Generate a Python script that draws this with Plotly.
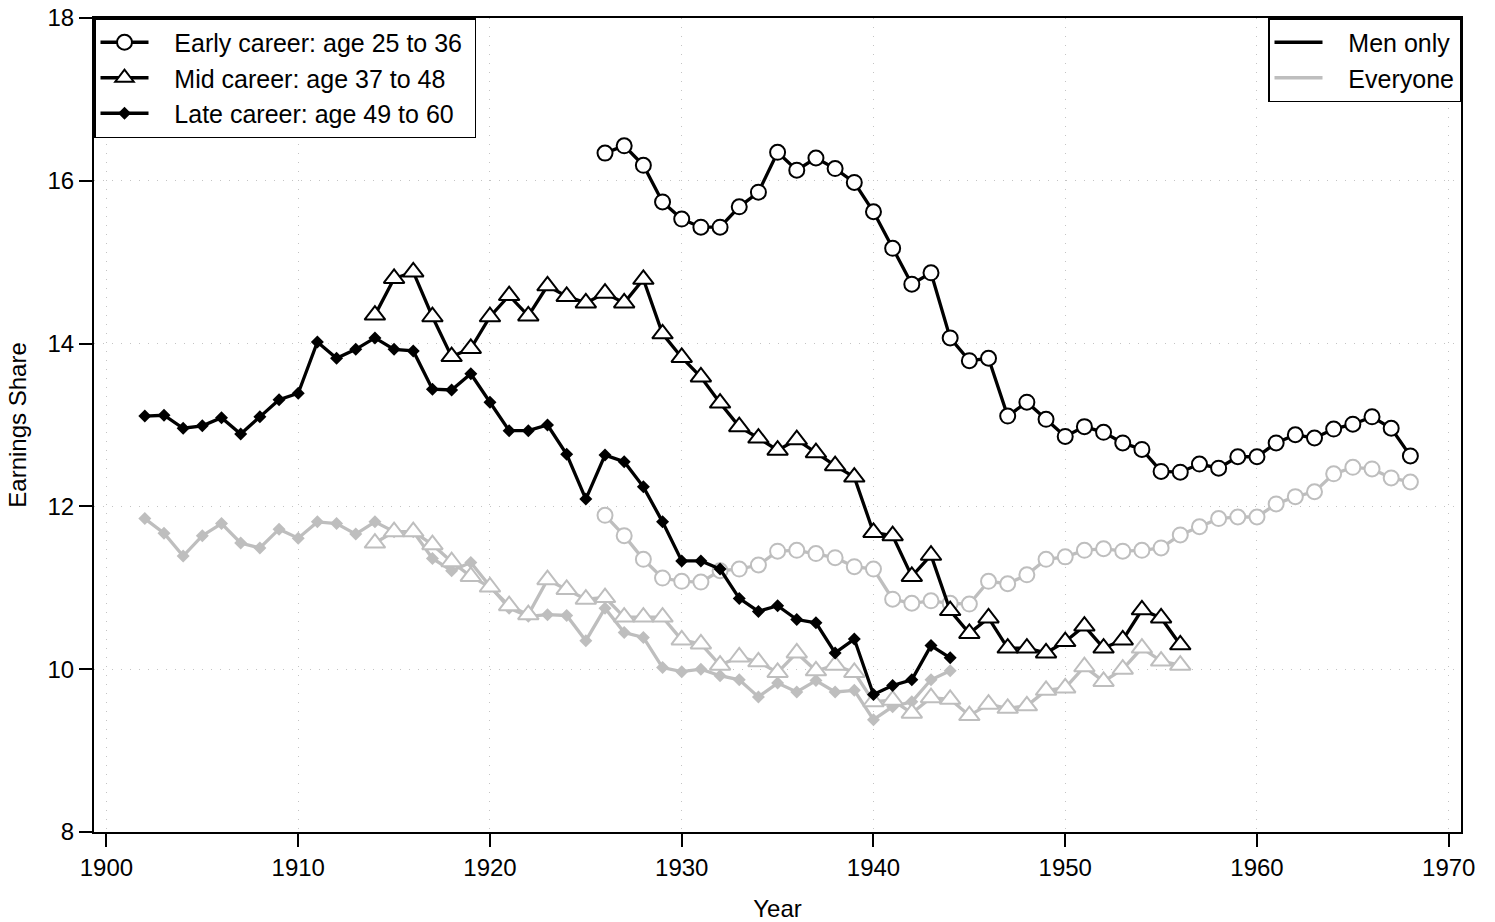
import plotly.graph_objects as go

# Earnings share by career stage, men only vs. everyone
years_early = list(range(1926, 1969))
years_mid = list(range(1914, 1957))
years_late = list(range(1902, 1945))

men_early = [16.34, 16.43, 16.19, 15.74, 15.53, 15.43, 15.43, 15.68, 15.86, 16.35,
             16.13, 16.28, 16.15, 15.98, 15.62, 15.17, 14.73, 14.87, 14.07, 13.79,
             13.82, 13.11, 13.28, 13.07, 12.86, 12.98, 12.91, 12.78, 12.70, 12.43,
             12.42, 12.52, 12.47, 12.61, 12.61, 12.78, 12.88, 12.84, 12.95, 13.01,
             13.10, 12.96, 12.62]
all_early = [11.89, 11.64, 11.35, 11.12, 11.08, 11.07, 11.21, 11.23, 11.28, 11.45,
             11.46, 11.42, 11.37, 11.26, 11.23, 10.86, 10.81, 10.84, 10.81, 10.80,
             11.08, 11.05, 11.16, 11.35, 11.38, 11.46, 11.48, 11.45, 11.46, 11.49,
             11.65, 11.75, 11.85, 11.87, 11.87, 12.03, 12.12, 12.18, 12.40, 12.48,
             12.46, 12.35, 12.30]

men_mid = [14.35, 14.80, 14.88, 14.33, 13.84, 13.94, 14.33, 14.59, 14.34, 14.71,
           14.58, 14.50, 14.62, 14.50, 14.79, 14.12, 13.83, 13.59, 13.27, 12.98,
           12.84, 12.69, 12.82, 12.66, 12.50, 12.36, 11.68, 11.64, 11.14, 11.40,
           10.72, 10.44, 10.63, 10.26, 10.26, 10.20, 10.34, 10.53, 10.26, 10.36,
           10.73, 10.63, 10.30]
all_mid = [11.55, 11.69, 11.69, 11.53, 11.32, 11.14, 11.01, 10.78, 10.67, 11.10,
           10.98, 10.86, 10.88, 10.64, 10.64, 10.64, 10.36, 10.31, 10.05, 10.15,
           10.09, 9.96, 10.20, 9.98, 10.05, 9.96, 9.60, 9.62, 9.46, 9.65,
           9.63, 9.43, 9.57, 9.52, 9.55, 9.74, 9.77, 10.03, 9.85, 10.00,
           10.26, 10.10, 10.05]

men_late = [13.11, 13.12, 12.96, 12.99, 13.09, 12.89, 13.10, 13.31, 13.39, 14.02,
            13.82, 13.93, 14.07, 13.93, 13.91, 13.44, 13.43, 13.63, 13.28, 12.93,
            12.93, 13.00, 12.64, 12.09, 12.63, 12.55, 12.24, 11.81, 11.33, 11.33,
            11.23, 10.87, 10.71, 10.78, 10.61, 10.57, 10.20, 10.37, 9.69, 9.80,
            9.87, 10.29, 10.14]
all_late = [11.85, 11.67, 11.39, 11.64, 11.79, 11.55, 11.49, 11.72, 11.61, 11.81,
            11.79, 11.66, 11.81, 11.69, 11.69, 11.36, 11.21, 11.31, 11.02, 10.75,
            10.65, 10.67, 10.66, 10.35, 10.75, 10.45, 10.39, 10.02, 9.97, 10.00,
            9.92, 9.87, 9.66, 9.83, 9.72, 9.86, 9.72, 9.74, 9.38, 9.54,
            9.60, 9.87, 9.98]

x_ticks = [1900, 1910, 1920, 1930, 1940, 1950, 1960, 1970]
y_ticks = [8, 10, 12, 14, 16, 18]

BLACK = "#000000"
GRAY = "#bebebe"
FONT = "Liberation Sans, Arial, sans-serif"
LW = 3.3
PAD = "   "  # gap between legend key and label

fig = go.Figure()


def add_series(x, y, color, symbol, name, showlegend):
    if symbol == "diamond":
        marker = dict(symbol="diamond", size=10, color=color, line=dict(width=0))
    elif symbol == "triangle-up":
        marker = dict(symbol="triangle-up", size=18, color="white",
                      line=dict(width=2, color=color))
    else:
        marker = dict(symbol="circle", size=15, color="white",
                      line=dict(width=2, color=color))
    fig.add_trace(go.Scatter(
        x=x, y=y, mode="lines+markers", name=PAD + name + " ",
        line=dict(color=color, width=LW), marker=marker,
        showlegend=showlegend, legend="legend",
    ))


# Everyone (gray) drawn underneath
add_series(years_late, all_late, GRAY, "diamond", "Late career: age 49 to 60", False)
add_series(years_mid, all_mid, GRAY, "triangle-up", "Mid career: age 37 to 48", False)
add_series(years_early, all_early, GRAY, "circle", "Early career: age 25 to 36", False)

# Men only (black) on top; these carry the age-group legend
add_series(years_early, men_early, BLACK, "circle", "Early career: age 25 to 36", True)
add_series(years_mid, men_mid, BLACK, "triangle-up", "Mid career: age 37 to 48", True)
add_series(years_late, men_late, BLACK, "diamond", "Late career: age 49 to 60", True)

# Sample-definition legend (line keys only)
fig.add_trace(go.Scatter(x=[None], y=[None], mode="lines", name=PAD + "Men only",
                         line=dict(color=BLACK, width=LW), legend="legend2"))
fig.add_trace(go.Scatter(x=[None], y=[None], mode="lines", name=PAD + "Everyone",
                         line=dict(color=GRAY, width=LW), legend="legend2"))

axis_common = dict(
    showline=True, linecolor=BLACK, linewidth=2, mirror=True,
    ticks="outside", ticklen=13, tickwidth=2, tickcolor=BLACK,
    showgrid=True, gridcolor="#c4c4c4", gridwidth=1, griddash="1px,8px",
    zeroline=False, tickfont=dict(family=FONT, size=24, color=BLACK),
)

fig.update_layout(
    width=1495, height=922,
    margin=dict(l=94, r=34, t=18, b=90, autoexpand=False),
    paper_bgcolor="white", plot_bgcolor="white",
    font=dict(family=FONT, size=24, color=BLACK),
    xaxis=dict(range=[1899.35, 1970.64], tickvals=x_ticks,
               title=dict(text="Year", font=dict(size=24), standoff=23),
               **axis_common),
    yaxis=dict(range=[8, 18], tickvals=y_ticks,
               title=dict(text="Earnings Share", font=dict(size=24), standoff=14),
               **axis_common),
    legend=dict(x=0, y=1, xanchor="left", yanchor="top",
                bordercolor=BLACK, borderwidth=1.5, bgcolor="white",
                font=dict(family=FONT, size=25, color=BLACK),
                itemwidth=48, tracegroupgap=0, traceorder="normal"),
    legend2=dict(x=1, y=1, xanchor="right", yanchor="top",
                 bordercolor=BLACK, borderwidth=1.5, bgcolor="white",
                 font=dict(family=FONT, size=25, color=BLACK),
                 itemwidth=48, traceorder="normal"),
)

fig.write_html("out.html")
